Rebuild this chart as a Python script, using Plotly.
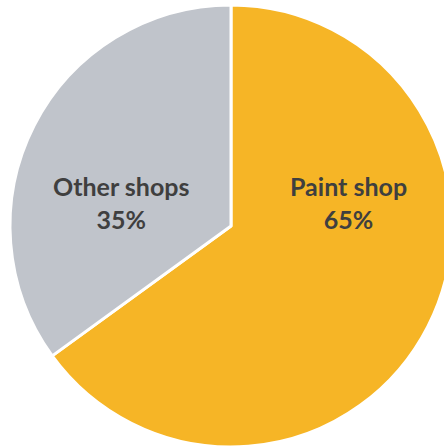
import plotly.graph_objects as go

# Share of purchases by shop type
labels = ["Paint shop", "Other shops"]
shares = [65, 35]
colors = ["#F6B526", "#C0C4CB"]

# Where each slice's caption sits (paper coordinates)
label_x = [0.765, 0.251]
label_y = [0.553, 0.553]

fig = go.Figure(
    go.Pie(
        labels=labels,
        values=shares,
        sort=False,
        direction="clockwise",
        rotation=0,
        marker=dict(colors=colors, line=dict(color="white", width=3)),
        textinfo="none",
        hoverinfo="label+percent",
        showlegend=False,
        domain=dict(x=[0, 1], y=[0, 1]),
    )
)

total = sum(shares)
for name, val, x, y in zip(labels, shares, label_x, label_y):
    fig.add_annotation(
        x=x, y=y, xref="paper", yref="paper",
        text=f"<b>{name}<br>{round(100 * val / total)}%</b>",
        showarrow=False,
        font=dict(family="Lato", size=25, color="#3F3F3F"),
        align="center",
        xanchor="center", yanchor="middle",
    )

fig.update_layout(
    width=462, height=447,
    margin=dict(l=10, r=10, t=5, b=0),
    paper_bgcolor="white",
    plot_bgcolor="white",
)

fig.write_html(
    "out.html",
    config={"displayModeBar": False},
    post_script="document.body.style.margin='0';document.body.style.overflow='hidden';",
)
